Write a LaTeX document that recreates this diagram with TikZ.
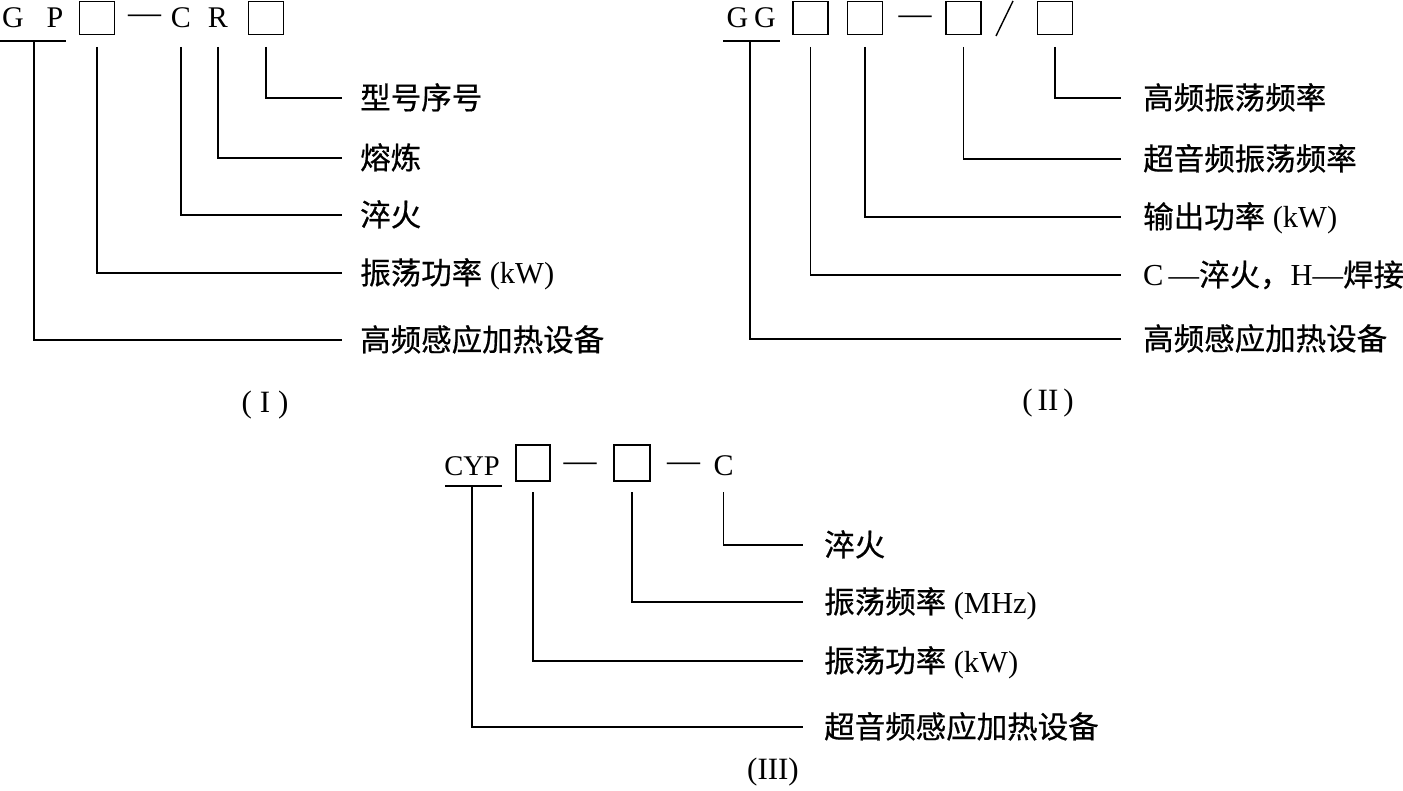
\documentclass[tikz,border=0pt]{standalone}
\usepackage{fontspec}
\setmainfont{Liberation Serif}
\newfontfamily\cjk[FakeBold=0.6]{Noto Sans CJK SC}
\tikzset{
  ln/.style={line width=1.7pt},
  boxn/.style={draw, line width=1.7pt, minimum width=35pt, minimum height=33pt, inner sep=0pt},
  code/.style={anchor=base, inner sep=0pt, font=\fontsize{30}{32}\selectfont},
  dashn/.style={anchor=base, inner sep=0pt, font=\fontsize{33}{34}\selectfont},
  lab/.style={anchor=west, inner sep=0pt, text height=22pt, text depth=0pt, font=\fontsize{30.5}{34}\selectfont},
  partlabel/.style={inner sep=0pt, font=\fontsize{31}{34}\selectfont},
}
\begin{document}
\begin{tikzpicture}[x=1pt,y=-1pt]
\useasboundingbox (0,0) rectangle (1403,791);

% ---------------- Part I ----------------
\node[code] (g1) at (13,28) {G};
\node[code] (p1) at (55,28) {P};
\draw[ln] (0,41) -- (66,41);
\coordinate (u1) at (34,41);
\node[boxn] (b1) at (97,18) {};
\node[dashn] (d1) at (144.5,24) {—};
\node[code] (c1) at (181,28) {C};
\node[code] (r1) at (218,28) {R};
\node[boxn] (b2) at (266,18) {};
\coordinate (t1) at (0,47);

\node[lab] (l11) at (360,98) {\cjk 型号序号};
\node[lab] (l12) at (360,158) {\cjk 熔炼};
\node[lab] (l13) at (360,215) {\cjk 淬火};
\node[lab] (l14) at (360,273) {{\cjk 振荡功率} (kW)};
\node[lab] (l15) at (360,340) {\cjk 高频感应加热设备};

\draw[ln] (b2 |- t1) |- ([xshift=-18pt]l11.west);
\draw[ln] (r1 |- t1) |- ([xshift=-18pt]l12.west);
\draw[ln] (c1 |- t1) |- ([xshift=-18pt]l13.west);
\draw[ln] (b1 |- t1) |- ([xshift=-18pt]l14.west);
\draw[ln] (u1) |- ([xshift=-18pt]l15.west);

\node[partlabel] (cI) at (265,405) {(\hspace{8pt}I\hspace{8pt})};

% ---------------- Part II ----------------
\node[code] (g21) at (737.5,28) {G};
\node[code] (g22) at (765,28) {G};
\draw[ln] (723,41) -- (780,41);
\coordinate (u2) at (750,41);
\node[boxn] (ba) at (810.5,18) {};
\node[boxn] (bb) at (865,18) {};
\node[dashn] (d2) at (915,25) {—};
\node[boxn] (bc) at (963.5,18) {};
\draw[line width=1.4pt] (996,36) -- (1013,1);
\node[boxn] (bd) at (1055,18) {};
\coordinate (t2) at (0,47);

\node[lab] (l21) at (1143,98) {\cjk 高频振荡频率};
\node[lab] (l22) at (1143,159) {\cjk 超音频振荡频率};
\node[lab] (l23) at (1143,217) {{\cjk 输出功率} (kW)};
\node[lab] (l24) at (1143,275) {C\,—{\cjk 淬火，}H—{\cjk 焊接}};
\node[lab] (l25) at (1143,339) {\cjk 高频感应加热设备};

\draw[ln] (bd |- t2) |- ([xshift=-22pt]l21.west);
\draw[ln] (bc |- t2) |- ([xshift=-22pt]l22.west);
\draw[ln] (bb |- t2) |- ([xshift=-22pt]l23.west);
\draw[ln] (ba |- t2) |- ([xshift=-22pt]l24.west);
\draw[ln] (u2) |- ([xshift=-22pt]l25.west);

\node[partlabel] (cII) at (1048,403) {(\hspace{5pt}II\hspace{5pt})};

% ---------------- Part III ----------------
\node[code, font=\fontsize{28.5}{30}\selectfont] (cyp) at (472,475) {CYP};
\draw[ln] (445,486) -- (502,486);
\coordinate (u3) at (472,486);
\node[boxn, minimum width=34pt, minimum height=36pt] (b31) at (533,463) {};
\node[dashn] (d31) at (580,471) {—};
\node[boxn, minimum width=36pt, minimum height=36pt] (b32) at (632,463) {};
\node[dashn] (d32) at (683.5,471) {—};
\node[code] (c3) at (723.5,475) {C};
\coordinate (t3) at (0,492);

\node[lab] (l31) at (824,545) {\cjk 淬火};
\node[lab] (l32) at (824,602) {{\cjk 振荡频率} (MHz)};
\node[lab] (l33) at (824,661) {{\cjk 振荡功率} (kW)};
\node[lab] (l34) at (824,727) {\cjk 超音频感应加热设备};

\draw[ln] (c3 |- t3) |- ([xshift=-21pt]l31.west);
\draw[ln] (b32 |- t3) |- ([xshift=-21pt]l32.west);
\draw[ln] (b31 |- t3) |- ([xshift=-21pt]l33.west);
\draw[ln] (u3) |- ([xshift=-21pt]l34.west);

\node[partlabel] (cIII) at (773,772) {(III)};
\end{tikzpicture}
\end{document}
